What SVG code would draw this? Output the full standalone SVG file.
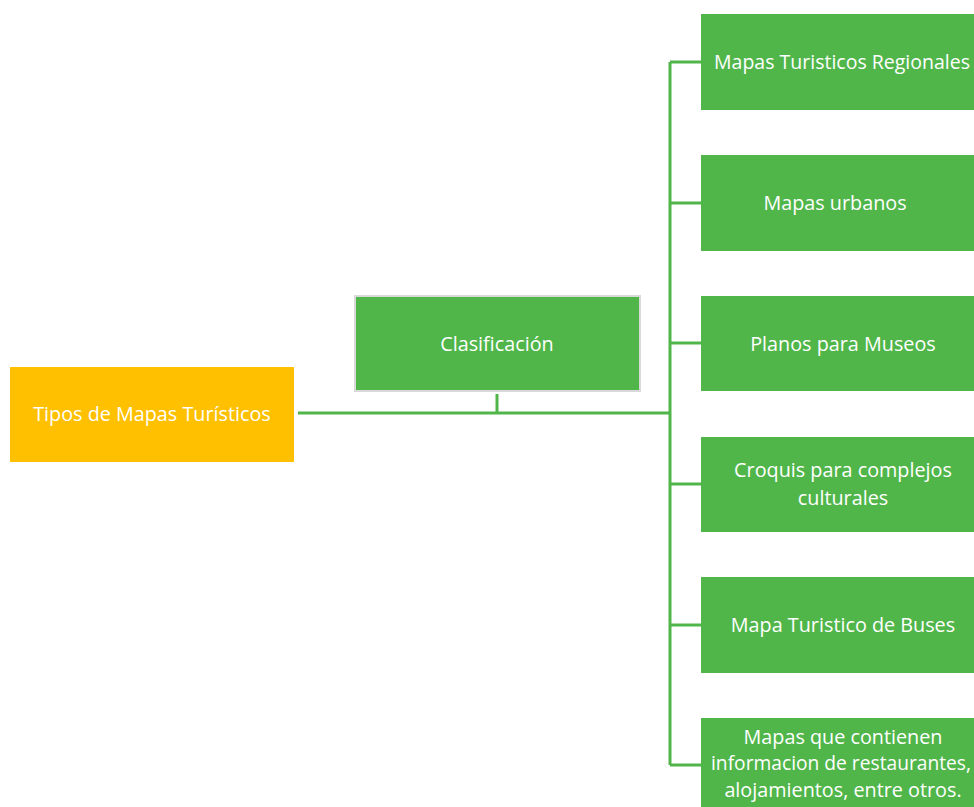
<svg xmlns="http://www.w3.org/2000/svg" width="974" height="807" viewBox="0 0 974 807">
<style>
.g{fill:#50b64a}
.t{fill:#fff;font-family:"Open Sans","Liberation Sans",sans-serif;font-size:19.8px;text-anchor:middle}
.c{stroke:#50b64a;stroke-width:3;fill:none}
</style>
<rect width="974" height="807" fill="#fff"/>
<g id="connectors">
<path class="c" d="M298 413H670M497 394V413M670 62V765M670 62H701M670 203H701M670 343H701M670 484H701M670 625H701M670 765H701"/>
</g>
<g id="tipos">
<rect x="10" y="367" width="284" height="95" fill="#ffc000"/>
<text class="t" x="152" y="421">Tipos de Mapas Turísticos</text>
</g>
<g id="clasificacion">
<rect x="355" y="296" width="285" height="95" class="g" stroke="#d9d9d9" stroke-width="2"/>
<text class="t" x="497" y="351">Clasificación</text>
</g>
<g id="n1"><rect x="701" y="14" width="273" height="96" class="g"/><text class="t" x="842" y="69" textLength="256" lengthAdjust="spacingAndGlyphs">Mapas Turisticos Regionales</text></g>
<g id="n2"><rect x="701" y="155" width="273" height="96" class="g"/><text class="t" x="835" y="210">Mapas urbanos</text></g>
<g id="n3"><rect x="701" y="296" width="273" height="95" class="g"/><text class="t" x="843" y="351">Planos para Museos</text></g>
<g id="n4"><rect x="701" y="437" width="273" height="95" class="g"/><text class="t" x="843" y="477">Croquis para complejos</text><text class="t" x="843" y="505">culturales</text></g>
<g id="n5"><rect x="701" y="577" width="273" height="96" class="g"/><text class="t" x="843" y="632">Mapa Turistico de Buses</text></g>
<g id="n6"><rect x="701" y="718" width="273" height="89" class="g"/><text class="t" x="843" y="744">Mapas que contienen</text><text class="t" x="841" y="770" textLength="260" lengthAdjust="spacingAndGlyphs">informacion de restaurantes,</text><text class="t" x="843" y="797">alojamientos, entre otros.</text></g>
</svg>
